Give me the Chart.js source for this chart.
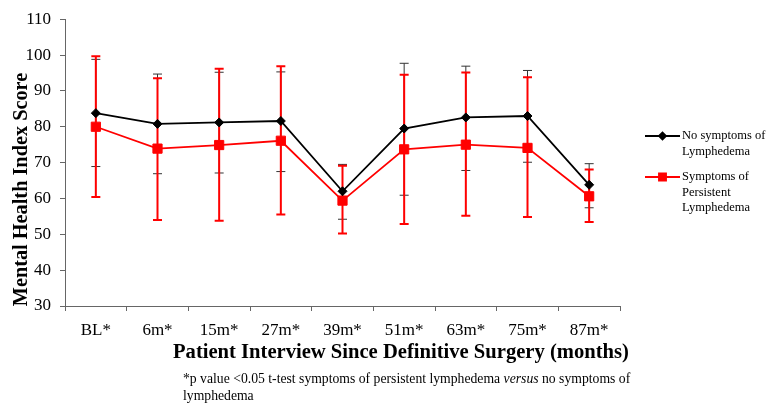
<!DOCTYPE html>
<html>
<head>
<meta charset="utf-8">
<script src="https://cdn.jsdelivr.net/npm/chart.js@4.4.1/dist/chart.umd.min.js"></script>
<style>
  html, body { margin: 0; padding: 0; background: #ffffff; }
  canvas { display: block; }
</style>
</head>
<body>
<canvas id="c" width="771" height="407"></canvas>
<script>
// ---- Data ----
const categories = ["BL*", "6m*", "15m*", "27m*", "39m*", "51m*", "63m*", "75m*", "87m*"];

const noSymptoms      = [83.8, 80.8, 81.2, 81.6, 62.0, 79.5, 82.6, 83.0, 63.8];
const noSymptomsHigh  = [98.8, 94.7, 95.2, 95.3, 69.5, 97.7, 96.9, 95.7, 69.7];
const noSymptomsLow   = [68.9, 66.9, 67.1, 67.5, 54.2, 60.9, 67.8, 70.1, 57.4];

const persistent      = [80.0, 73.9, 74.9, 76.1, 59.4, 73.7, 75.0, 74.1, 60.6];
const persistentHigh  = [99.7, 93.5, 96.2, 96.9, 69.1, 94.5, 95.1, 93.8, 68.1];
const persistentLow   = [60.4, 54.0, 53.8, 55.5, 50.2, 52.9, 55.2, 54.8, 53.4];

const yTicks = [30, 40, 50, 60, 70, 80, 90, 100, 110];

const legendNoSymptoms = ["No symptoms of", "Lymphedema"];
const legendPersistent = ["Symptoms of", "Persistent", "Lymphedema"];

const yTitle = "Mental Health Index Score";
const xTitle = "Patient Interview Since Definitive Surgery (months)";
const footnoteA = "*p value <0.05 t-test symptoms of persistent lymphedema ";
const footnoteItalic = "versus";
const footnoteB = " no symptoms of";
const footnoteLine2 = "lymphedema";

const SERIF = "'Liberation Serif', 'Times New Roman', serif";

const errorBars = [
  { high: noSymptomsHigh, low: noSymptomsLow, color: "#333333", width: 1, cap: 4.5 },
  { high: persistentHigh, low: persistentLow, color: "#ff0000", width: 2, cap: 4.5 }
];

const errorBarPlugin = {
  id: "errorBars",
  beforeDatasetsDraw(chart) {
    const ctx = chart.ctx;
    const xs = chart.scales.x, ys = chart.scales.y;
    ctx.save();
    errorBars.forEach(eb => {
      ctx.strokeStyle = eb.color;
      ctx.lineWidth = eb.width;
      eb.high.forEach((h, i) => {
        const x = xs.getPixelForValue(i);
        const yh = ys.getPixelForValue(h);
        const yl = ys.getPixelForValue(eb.low[i]);
        ctx.beginPath();
        ctx.moveTo(x, yh); ctx.lineTo(x, yl);
        ctx.moveTo(x - eb.cap, yh); ctx.lineTo(x + eb.cap, yh);
        ctx.moveTo(x - eb.cap, yl); ctx.lineTo(x + eb.cap, yl);
        ctx.stroke();
      });
    });
    ctx.restore();
  }
};

const textPlugin = {
  id: "texts",
  afterDraw(chart) {
    const ctx = chart.ctx;
    ctx.save();
    ctx.fillStyle = "#000";
    // Y title
    ctx.save();
    ctx.translate(27, 189.5);
    ctx.rotate(-Math.PI / 2);
    ctx.font = "bold 20.3px " + SERIF;
    ctx.textAlign = "center";
    ctx.textBaseline = "alphabetic";
    ctx.fillText(yTitle, 0, 0);
    ctx.restore();
    // X title
    ctx.font = "bold 20.6px " + SERIF;
    ctx.textAlign = "left";
    ctx.textBaseline = "alphabetic";
    ctx.fillText(xTitle, 173, 358);
    // Footnote
    ctx.font = "13.7px " + SERIF;
    ctx.textBaseline = "middle";
    let x = 183;
    ctx.fillText(footnoteA, x, 379);
    x += ctx.measureText(footnoteA).width;
    ctx.font = "italic 13.7px " + SERIF;
    ctx.fillText(footnoteItalic, x, 379);
    x += ctx.measureText(footnoteItalic).width;
    ctx.font = "13.7px " + SERIF;
    ctx.fillText(footnoteB, x, 379);
    ctx.fillText(footnoteLine2, 183, 396);

    // Legend
    const items = [
      { ds: chart.data.datasets[0], lines: legendNoSymptoms, y: 136 },
      { ds: chart.data.datasets[1], lines: legendPersistent, y: 177 }
    ];
    items.forEach(it => {
      ctx.strokeStyle = it.ds.borderColor;
      ctx.lineWidth = it.ds.borderWidth;
      ctx.beginPath();
      ctx.moveTo(645, it.y); ctx.lineTo(680, it.y);
      ctx.stroke();
      Chart.helpers.drawPoint(ctx, {
        pointStyle: it.ds.pointStyle,
        radius: it.ds.pointStyle === "rect" ? 5 : 3.5,
        borderWidth: 1,
        rotation: 0
      }, 662.5, it.y);
      ctx.fillStyle = it.ds.backgroundColor;
      ctx.fill();
      ctx.fillStyle = "#000";
      ctx.font = "12.5px " + SERIF;
      ctx.textAlign = "left";
      ctx.textBaseline = "middle";
      it.lines.forEach((t, k) => ctx.fillText(t, 682, it.y + k * 15.5));
    });
    ctx.restore();
  }
};

new Chart(document.getElementById("c"), {
  type: "line",
  data: {
    labels: categories,
    datasets: [
      {
        label: legendNoSymptoms.join(" "),
        data: noSymptoms,
        borderColor: "#000000",
        backgroundColor: "#000000",
        borderWidth: 1.8,
        pointStyle: "rectRot",
        pointRadius: 4.5,
        pointBorderWidth: 1,
        tension: 0
      },
      {
        label: legendPersistent.join(" "),
        data: persistent,
        borderColor: "#ff0000",
        backgroundColor: "#ff0000",
        borderWidth: 1.8,
        pointStyle: "rect",
        pointRadius: 6.5,
        pointBorderWidth: 1,
        tension: 0
      }
    ]
  },
  options: {
    responsive: false,
    animation: false,
    events: [],
    layout: { padding: { top: 16, right: 151, left: 0, bottom: 0 } },
    plugins: { legend: { display: false }, tooltip: { enabled: false } },
    scales: {
      x: {
        type: "category",
        offset: true,
        grid: { offset: true, drawOnChartArea: false, tickLength: 5, color: "#666666" },
        border: { color: "#666666", width: 1 },
        ticks: { font: { family: SERIF, size: 17 }, color: "#000", padding: 9, maxRotation: 0, autoSkip: false },
        afterFit(s) { s.height = 101; }
      },
      y: {
        min: yTicks[0],
        max: yTicks[yTicks.length - 1],
        afterBuildTicks(s) { s.ticks = yTicks.map(v => ({ value: v })); },
        grid: { drawOnChartArea: false, tickLength: 5, color: "#666666" },
        border: { color: "#666666", width: 1 },
        ticks: { font: { family: SERIF, size: 17 }, color: "#000", padding: 9 },
        afterFit(s) { s.width = 65; }
      }
    }
  },
  plugins: [errorBarPlugin, textPlugin]
});
</script>
</body>
</html>
